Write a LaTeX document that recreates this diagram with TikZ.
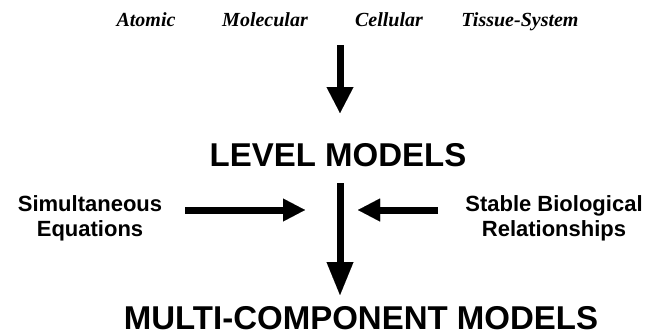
\documentclass[tikz,border=0pt]{standalone}
\usepackage{fontspec}
\setmainfont{Liberation Serif}
\setsansfont{Liberation Sans}
\usetikzlibrary{arrows.meta}
\begin{document}
\begin{tikzpicture}[x=1pt,y=-1pt,
  toplabel/.style={font=\rmfamily\bfseries\itshape\fontsize{20}{24}\selectfont, inner sep=0pt, anchor=base},
  bigtitle/.style={font=\sffamily\bfseries\fontsize{33}{36}\selectfont, inner sep=0pt, anchor=base},
  sidelabel/.style={font=\sffamily\bfseries\fontsize{22}{25}\selectfont, inner sep=0pt, align=center, anchor=base},
  bigarrow/.style={line width=7pt, -{Triangle[length=26pt,width=27pt,line width=0.01pt]}},
  longarrow/.style={line width=7pt, -{Triangle[length=33pt,width=27pt,line width=0.01pt]}},
  sidearrow/.style={line width=7pt, -{Triangle[length=22pt,width=23pt,line width=0.01pt]}}
]
\useasboundingbox (0,0) rectangle (666,335);
\node[toplabel] (atomic) at (146,26) {Atomic};
\node[toplabel] (molecular) at (265,26) {Molecular};
\node[toplabel] (cellular) at (389,26) {Cellular};
\node[toplabel] (tissue) at (520,26) {Tissue-System};
\node[bigtitle] (level) at (338,166) {LEVEL MODELS};
\node[bigtitle] (multi) at (361,329) {MULTI-COMPONENT MODELS};
\node[sidelabel] (simul) at (90,236) {Simultaneous\\Equations};
\node[sidelabel] (stable) at (554,236) {Stable Biological\\Relationships};
\coordinate (topstart) at (340,45);
\coordinate (toptip) at (340,113);
\coordinate (vtop) at (340,183);
\coordinate (vtip) at (340,295);
\coordinate (lstart) at (185,210);
\coordinate (ltip) at (305,210);
\coordinate (rstart) at (438,210);
\coordinate (rtip) at (358,210);
\draw[bigarrow] (topstart) -- (toptip);
\draw[longarrow] (vtop) -- (vtip);
\draw[sidearrow] (lstart) -- (ltip);
\draw[sidearrow] (rstart) -- (rtip);
\end{tikzpicture}
\end{document}
